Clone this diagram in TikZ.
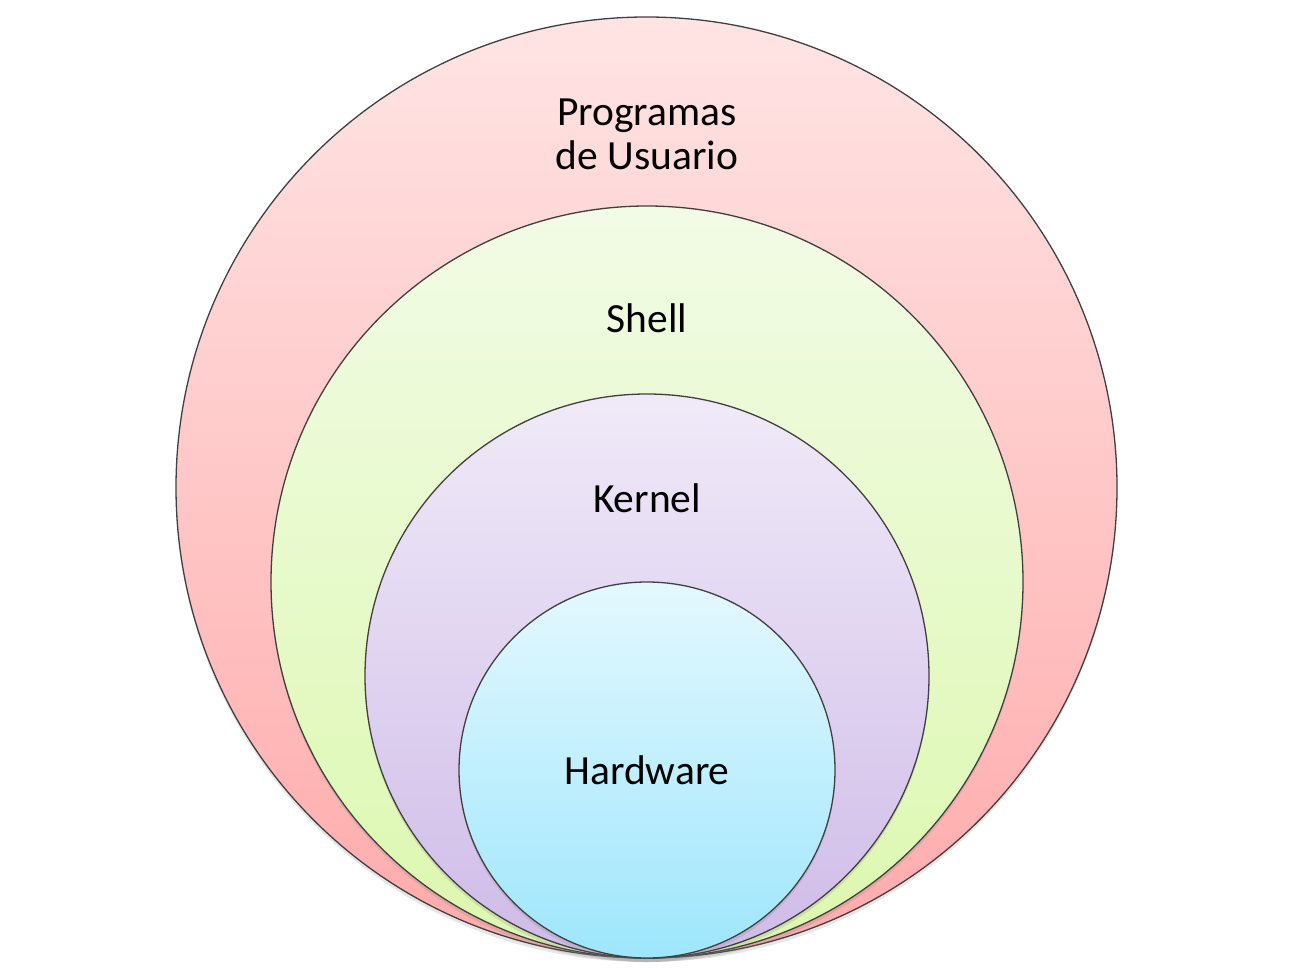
\documentclass[tikz,border=0pt]{standalone}
\usepackage{fontspec}
\setmainfont{Carlito}
\usetikzlibrary{shadows}
\definecolor{userTop}{HTML}{FFE4E4}
\definecolor{userBot}{HTML}{FFAAAA}
\definecolor{shellTop}{HTML}{F2FBE6}
\definecolor{shellBot}{HTML}{DCF8AE}
\definecolor{kernTop}{HTML}{F0EAF8}
\definecolor{kernBot}{HTML}{CFBBE8}
\definecolor{hwTop}{HTML}{E4F8FE}
\definecolor{hwBot}{HTML}{9EE6FC}
\tikzset{
  layer/.style={circle, draw=black!75, line width=1.3pt, inner sep=0pt,
    drop shadow={opacity=0.2, shadow xshift=0pt, shadow yshift=-4pt}},
  layertext/.style={font=\fontsize{41.5}{44}\selectfont, align=center, inner sep=1pt}
}
\begin{document}
\begin{tikzpicture}[x=1pt, y=1pt]
  \useasboundingbox (0,0) rectangle (1297,-976);
  % nested layers, all touching at the bottom
  \node[layer, minimum size=941, top color=userTop, bottom color=userBot] (user) at (646.5,-487.5) {};
  \node[layer, minimum size=752, top color=shellTop, bottom color=shellBot] (shell) at (647,-582) {};
  \node[layer, minimum size=564, top color=kernTop, bottom color=kernBot] (kern) at (647,-676) {};
  \node[layer, minimum size=376, top color=hwTop, bottom color=hwBot] (hw) at (647,-770) {};
  % labels
  \node[layertext] (userlbl) at (647,-134) {Programas\\de Usuario};
  \node[layertext] (shelllbl) at (647,-318) {Shell};
  \node[layertext] (kernlbl) at (647,-498) {Kernel};
  \node[layertext] (hwlbl) at (hw.center) {Hardware};
\end{tikzpicture}
\end{document}
